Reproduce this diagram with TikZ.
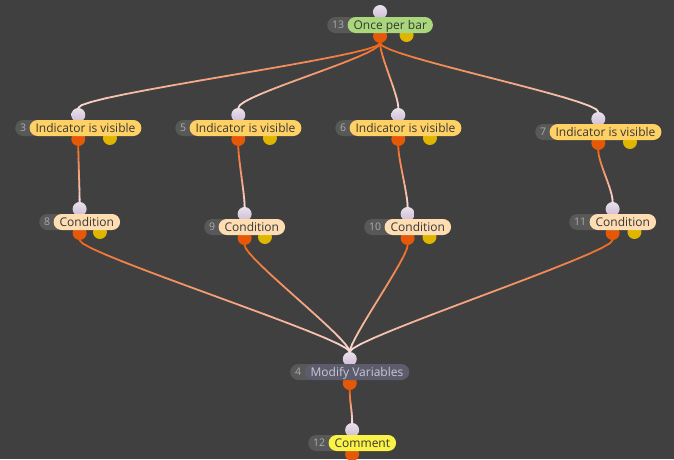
\documentclass[tikz,border=0pt]{standalone}
\usepackage{fontspec}
\setmainfont{Open Sans}
\usetikzlibrary{positioning,calc}
\definecolor{bgdark}{RGB}{64,64,64}
\definecolor{idgrey}{RGB}{88,88,88}
\definecolor{idtext}{RGB}{172,172,172}
\definecolor{oncegreen}{RGB}{170,214,124}
\definecolor{visgold}{RGB}{255,209,100}
\definecolor{condpeach}{RGB}{255,221,178}
\definecolor{modslate}{RGB}{92,92,108}
\definecolor{modtext}{RGB}{200,200,214}
\definecolor{notelemon}{RGB}{250,242,70}
\definecolor{labeltext}{RGB}{55,55,55}
\definecolor{portlav}{RGB}{206,188,212}
\definecolor{portorange}{RGB}{228,88,8}
\definecolor{portyellow}{RGB}{222,182,0}
\definecolor{wireout}{RGB}{238,100,24}
\definecolor{wirein}{RGB}{250,226,226}
\pgfdeclarelayer{wires}
\pgfdeclarelayer{ports}
\pgfsetlayers{wires,ports,main}

\begin{document}
\begin{tikzpicture}[
    x=1pt, y=-1pt,
    idpill/.style={rectangle, rounded corners=8pt, fill=idgrey, text=idtext, minimum height=16pt,
        inner xsep=5pt, inner ysep=0pt, text height=8.5pt, text depth=1pt,
        font=\fontsize{10.5}{11}\selectfont, anchor=west, execute at end node={\hspace{10pt}}},
    pill/.style={rectangle, rounded corners=8pt, minimum height=16pt, inner xsep=6pt, inner ysep=0pt,
        text height=10pt, text depth=1.5pt, text=labeltext, font=\fontsize{12}{13}\selectfont},
    portin/.style={circle, inner sep=0pt, minimum size=14pt, top color=portlav!45!white, bottom color=portlav},
    portout/.style={circle, inner sep=0pt, minimum size=14pt, fill=portorange},
    portyel/.style={circle, inner sep=0pt, minimum size=14pt, fill=portyellow},
    wire/.style={line width=1.8pt, line cap=round}
]
\begin{pgfonlayer}{wires}
\fill[bgdark] (0,0) rectangle (674,459);
\end{pgfonlayer}
\useasboundingbox (0,0) rectangle (674,459);

\node[idpill] (id13) at (327,25) {13};
\node[pill, fill=oncegreen, right=-12pt of id13] (b13) {Once per bar};

\node[idpill] (id3) at (15,128) {3};
\node[pill, fill=visgold, right=-12pt of id3] (b3) {Indicator is visible};
\node[idpill] (id5) at (175,128) {5};
\node[pill, fill=visgold, right=-12pt of id5] (b5) {Indicator is visible};
\node[idpill] (id6) at (335,128) {6};
\node[pill, fill=visgold, right=-12pt of id6] (b6) {Indicator is visible};
\node[idpill] (id7) at (535,132) {7};
\node[pill, fill=visgold, right=-12pt of id7] (b7) {Indicator is visible};

\node[idpill] (id8) at (39,222) {8};
\node[pill, fill=condpeach, right=-12pt of id8] (b8) {Condition};
\node[idpill] (id9) at (204,227) {9};
\node[pill, fill=condpeach, right=-12pt of id9] (b9) {Condition};
\node[idpill] (id10) at (364,227) {10};
\node[pill, fill=condpeach, right=-12pt of id10] (b10) {Condition};
\node[idpill] (id11) at (569,222) {11};
\node[pill, fill=condpeach, right=-12pt of id11] (b11) {Condition};

\node[idpill] (id4) at (290,372) {4};
\node[pill, fill=modslate, text=modtext, right=-12pt of id4] (b4) {Modify Variables};

\node[idpill] (id12) at (308,443) {12};
\node[pill, fill=notelemon, right=-12pt of id12] (b12) {Comment};

% ports sit under the pills
\begin{pgfonlayer}{ports}
\foreach \b in {13,3,5,6,7,8,9,10,11,4,12} {
    \node[portin] (in\b) at ($(id\b.west)!0.5!(b\b.east)+(0,-13)$) {};
    \node[portout] (out\b) at ($(id\b.west)!0.5!(b\b.east)+(0,11)$) {};
}
\foreach \b in {13,3,5,6,7,8,9,10,11}
    \node[portyel] (yel\b) at ($(id\b.west)!0.75!(b\b.east)+(0,10)$) {};
\end{pgfonlayer}

% wires fade from orange to pale pink
\begin{pgfonlayer}{wires}
\foreach \src/\dst in {13/3,13/5,13/6,13/7,3/8,5/9,6/10,7/11,8/4,9/4,10/4,11/4,4/12} {
    \foreach \k [evaluate=\k as \t using \k/16] in {0,...,16}
        \path (out\src) .. controls +(0,20) and +(0,-20) .. (in\dst) coordinate[pos=\t] (w\k);
    \foreach \k [evaluate=\k as \kn using int(\k+1), evaluate=\k as \mix using 100-6.25*\k] in {0,...,15}
        \draw[wire, wireout!\mix!wirein] (w\k) -- (w\kn);
}
\end{pgfonlayer}
\end{tikzpicture}
\end{document}
